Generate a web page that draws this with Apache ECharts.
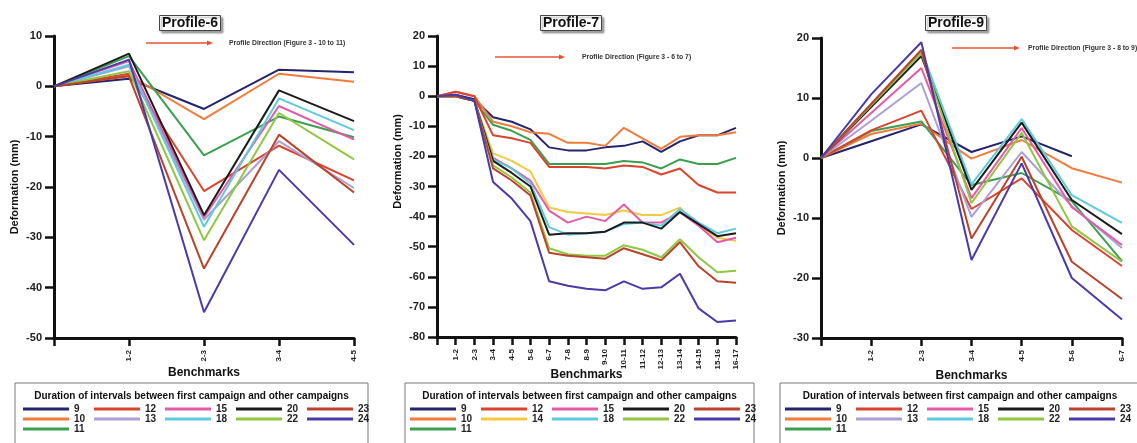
<!DOCTYPE html>
<html>
<head>
<meta charset="utf-8">
<script src="https://cdn.jsdelivr.net/npm/echarts@6/dist/echarts.min.js"></script>
<style>html,body{margin:0;padding:0;background:#fff}#c{width:1137px;height:443px}</style>
</head>
<body>
<div id="c"></div>
<script>
// ---------- DATA ----------
const cat6 = ['', '1-2', '2-3', '3-4', '4-5'];
const cat7 = ['', '1-2', '2-3', '3-4', '4-5', '5-6', '6-7', '7-8', '8-9', '9-10', '10-11', '11-12', '12-13', '13-14', '14-15', '15-16', '16-17'];
const cat9 = ['', '1-2', '2-3', '3-4', '4-5', '5-6', '6-7'];

// Profile-6
const p6_9  = [0, 1.5, -4.5, 3.3, 2.8];
const p6_10 = [0, 2.2, -6.5, 2.5, 0.9];
const p6_11 = [0, 6.0, -13.7, -6.0, -10.1];
const p6_12 = [0, 2.5, -20.8, -11.8, -18.7];
const p6_13 = [0, 4.0, -26.5, -10.9, -20.2];
const p6_15 = [0, 5.0, -26.0, -3.9, -10.6];
const p6_18 = [0, 4.3, -27.9, -2.4, -8.7];
const p6_20 = [0, 6.5, -25.6, -0.8, -6.9];
const p6_22 = [0, 3.0, -30.6, -5.3, -14.5];
const p6_23 = [0, 2.0, -36.2, -9.6, -21.1];
const p6_24 = [0, 5.3, -44.9, -16.6, -31.5];

// Profile-7
const p7_9  = [0, 0.5, -1, -7, -8.5, -11, -17, -18, -18, -17, -16.5, -15, -18.5, -15, -13, -13, -10.5];
const p7_10 = [0, 1.5, 0, -8.5, -10, -12, -12.5, -15.5, -15.5, -16.5, -10.5, -14, -17.5, -13.5, -13, -13, -12];
const p7_11 = [0, 0, -1.5, -9.5, -11.5, -14.5, -22.5, -22.5, -22.5, -22.5, -21.5, -22, -24, -21, -22.5, -22.5, -20.5];
const p7_12 = [0, 1.5, 0, -13, -14, -15.5, -23.5, -23.5, -23.5, -24, -23, -23.5, -26, -24, -29.5, -32, -32];
const p7_14 = [0, 0, -1.5, -19, -21.5, -25, -37, -38.5, -39, -39.5, -38, -39.5, -39.5, -37, -43, -47, -48];
const p7_15 = [0, 0, -1.5, -20.5, -24, -28, -38, -42, -40, -41.5, -36, -42, -42, -38.5, -43, -48.5, -47];
const p7_18 = [0, 0, -1.5, -21, -24, -29, -43.5, -46, -45.5, -45, -42.5, -42, -43, -37.5, -42, -45.5, -44];
const p7_20 = [0, 0, -1.5, -21.5, -25.5, -30, -46, -45.5, -45.5, -45, -42, -42, -44, -38.5, -42.5, -46.5, -45.5];
const p7_22 = [0, 0, -1.5, -23, -27, -32, -50.5, -52.5, -53, -53, -49.5, -51, -53.5, -47.5, -53.5, -58.5, -58];
const p7_23 = [0, 0, -1.5, -24, -28, -33, -52, -53, -53.5, -54, -50.5, -52.5, -54.5, -48.5, -56.5, -61.5, -62];
const p7_24 = [0, 0.5, -1.5, -28.5, -34, -41.5, -61.5, -63, -64, -64.5, -61.5, -64, -63.5, -59, -70.5, -75, -74.5];

// Profile-9
const p9_9  = [0, 2.8, 5.6, 1.0, 3.6, 0.3, null];
const p9_10 = [0, 4.0, 5.7, -0.1, 3.0, -1.7, -4.1];
const p9_11 = [0, 4.5, 6.1, -4.5, -2.5, -7.2, -17.2];
const p9_12 = [0, 4.6, 7.9, -8.5, -3.4, -12.0, -18.0];
const p9_13 = [0, 6.2, 12.5, -9.8, 1.0, -8.0, -15.0];
const p9_15 = [0, 7.5, 15.0, -6.7, 5.0, -8.2, -14.5];
const p9_18 = [0, 9.0, 18.0, -4.4, 6.5, -6.2, -10.8];
const p9_20 = [0, 8.5, 17.0, -5.3, 5.9, -7.0, -12.7];
const p9_22 = [0, 8.8, 17.5, -7.5, 4.2, -11.4, -17.3];
const p9_23 = [0, 9.0, 18.0, -13.4, 0.2, -17.3, -23.5];
const p9_24 = [0, 10.6, 19.3, -17.0, -0.9, -20.0, -26.9];

const profiles6 = [['9', p6_9], ['10', p6_10], ['11', p6_11], ['12', p6_12], ['13', p6_13], ['15', p6_15], ['18', p6_18], ['20', p6_20], ['22', p6_22], ['23', p6_23], ['24', p6_24]];
const profiles7 = [['9', p7_9], ['10', p7_10], ['11', p7_11], ['12', p7_12], ['14', p7_14], ['15', p7_15], ['18', p7_18], ['20', p7_20], ['22', p7_22], ['23', p7_23], ['24', p7_24]];
const profiles9 = [['9', p9_9], ['10', p9_10], ['11', p9_11], ['12', p9_12], ['13', p9_13], ['15', p9_15], ['18', p9_18], ['20', p9_20], ['22', p9_22], ['23', p9_23], ['24', p9_24]];

const legendRows6 = [['9', '12', '15', '20', '23'], ['10', '13', '18', '22', '24'], ['11']];
const legendRows7 = [['9', '12', '15', '20', '23'], ['10', '14', '18', '22', '24'], ['11']];
const legendRows9 = [['9', '12', '15', '20', '23'], ['10', '13', '18', '22', '24'], ['11']];

const titles = ['Profile-6', 'Profile-7', 'Profile-9'];
const directions = ['Profile Direction (Figure 3 - 10 to 11)', 'Profile Direction (Figure 3 - 6 to 7)', 'Profile Direction (Figure 3 - 8 to 9)'];
const legendTitle = 'Duration of intervals between first campaign and other campaigns';

// ---------- STYLE ----------
const colors = {'9':'#25246e','10':'#f17b3b','11':'#3b9f50','12':'#d9442c','13':'#ab9fd6','14':'#f2c940','15':'#e35aa6','18':'#5ecadd','20':'#1c1c1c','22':'#8fc741','23':'#b9432b','24':'#4b3aa8'};
const FF = '"Liberation Sans", Arial, sans-serif';

const panels = [
  {cats: cat6, series: profiles6, rows: legendRows6, min: -50, max: 10, grid: {left: 54, top: 36, width: 300, height: 302},
   titleLeft: 159, arrow: [146, 213, 43], textX: 229, box: [15, 368], legX: 23, namePad: 0, xGap: 29},
  {cats: cat7, series: profiles7, rows: legendRows7, min: -80, max: 20, grid: {left: 437, top: 36, width: 299, height: 301},
   titleLeft: 540, arrow: [495, 565, 57], textX: 582, box: [405, 754], legX: 410, namePad: 50, xGap: 32},
  {cats: cat9, series: profiles9, rows: legendRows9, min: -30, max: 20, grid: {left: 821, top: 38, width: 301, height: 300},
   titleLeft: 925, arrow: [952, 1020, 48], textX: 1028, box: [780, 1140], legX: 785, namePad: 0, xGap: 32}
];

const option = {
  animation: false,
  backgroundColor: '#fff',
  textStyle: {fontFamily: FF},
  title: [], grid: [], xAxis: [], yAxis: [], series: [], legend: [], graphic: []
};

panels.forEach((p, i) => {
  option.title.push({
    text: titles[i], left: p.titleLeft, top: 15, padding: [1, 3, 1, 3],
    borderColor: '#444', borderWidth: 1, backgroundColor: '#fff',
    shadowColor: 'rgba(0,0,0,0.35)', shadowBlur: 2, shadowOffsetX: 2, shadowOffsetY: 2,
    textStyle: {fontFamily: FF, fontSize: 14, fontWeight: 'bold', color: '#111'}
  });
  option.grid.push(p.grid);
  option.xAxis.push({
    type: 'category', gridIndex: i, data: p.cats, boundaryGap: false,
    name: 'Benchmarks', nameLocation: 'middle', nameGap: p.xGap, nameMoveOverlap: false,
    nameTextStyle: {fontFamily: FF, fontSize: 12, fontWeight: 'bold', color: '#111'},
    axisLine: {onZero: false, lineStyle: {color: '#111', width: 3}},
    axisTick: {length: 8, lineStyle: {width: 2.5, color: '#111'}, alignWithLabel: true},
    axisLabel: {rotate: 90, fontSize: 8, fontWeight: 'bold', color: '#222', margin: 12, interval: 0},
    splitLine: {show: false}
  });
  option.yAxis.push({
    type: 'value', gridIndex: i, min: p.min, max: p.max, interval: 10,
    name: 'Deformation (mm)', nameLocation: 'middle', nameGap: 34,
    nameTextStyle: {fontFamily: FF, fontSize: 11, fontWeight: 'bold', color: '#111', padding: [0, 0, 0, p.namePad]},
    axisLine: {show: true, onZero: false, lineStyle: {color: '#111', width: 3}},
    axisTick: {show: true, length: 9, lineStyle: {width: 2.5, color: '#111'}},
    axisLabel: {fontSize: 11, fontWeight: 'bold', color: '#222', margin: 12},
    splitLine: {show: false}
  });
  p.series.forEach(([name, vals]) => {
    option.series.push({
      name: name, type: 'line', xAxisIndex: i, yAxisIndex: i, data: vals,
      symbol: 'none', connectNulls: false,
      lineStyle: {width: 2, color: colors[name]}, itemStyle: {color: colors[name]}
    });
  });
  p.rows.forEach((row, r) => {
    option.legend.push({
      data: row, left: p.legX, top: 404 + r * 10, orient: 'horizontal',
      icon: 'rect', itemWidth: 46, itemHeight: 3, itemGap: 8, padding: 0,
      selectedMode: false,
      textStyle: {fontFamily: FF, fontSize: 10, fontWeight: 'bold', color: '#222', width: 12, lineHeight: 10}
    });
  });
  // legend box + title
  option.graphic.push({
    type: 'rect', shape: {x: p.box[0], y: 383, width: p.box[1] - p.box[0], height: 80},
    style: {fill: 'none', stroke: '#777', lineWidth: 1}, z: 1
  });
  option.graphic.push({
    type: 'text', x: (p.box[0] + p.box[1]) / 2, y: 396,
    style: {text: legendTitle, fontFamily: FF, fontSize: 10, fontWeight: 'bold', fill: '#111', align: 'center', verticalAlign: 'middle'}
  });
  // direction arrow
  const [x1, x2, ay] = p.arrow;
  option.graphic.push({
    type: 'line', shape: {x1: x1, y1: ay, x2: x2 - 4, y2: ay}, style: {stroke: '#e4532f', lineWidth: 1.5}
  });
  option.graphic.push({
    type: 'polygon', shape: {points: [[x2, ay], [x2 - 6, ay - 2.5], [x2 - 6, ay + 2.5]]}, style: {fill: '#e4532f'}
  });
  option.graphic.push({
    type: 'text', x: p.textX, y: ay,
    style: {text: directions[i], fontFamily: FF, fontSize: 6.8, fontWeight: 'bold', fill: '#333', verticalAlign: 'middle'}
  });
});

const chart = echarts.init(document.getElementById('c'), null, {renderer: 'canvas'});
chart.setOption(option);
</script>
</body>
</html>
